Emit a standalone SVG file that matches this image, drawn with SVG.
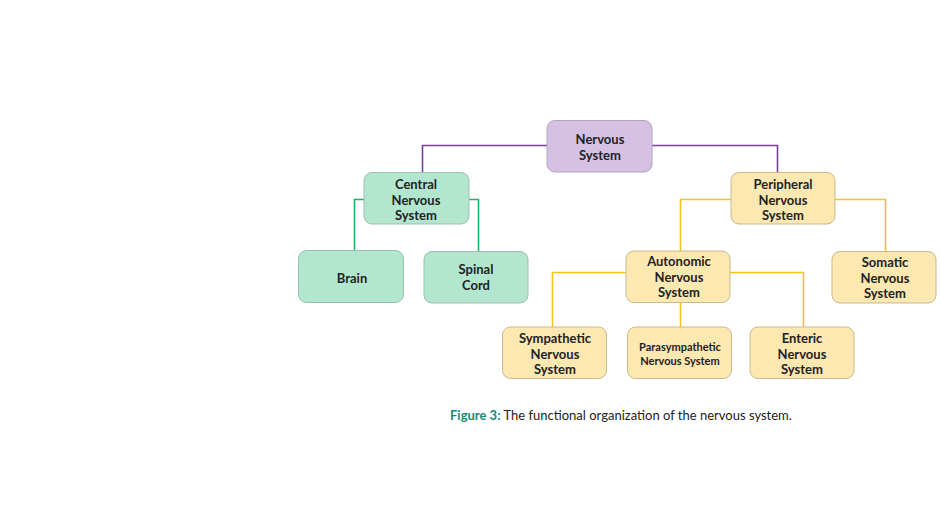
<svg xmlns="http://www.w3.org/2000/svg" width="940" height="526" viewBox="0 0 940 526">
<style>
.n text{font-family:Lato,"Liberation Sans",sans-serif;font-size:13px;font-weight:bold;fill:#222;text-anchor:middle}
.p rect{fill:#d4c1e3;stroke:#b3a3c2;stroke-width:1}
.g rect{fill:#b3e6cf;stroke:#9ebfb0;stroke-width:1}
.y rect{fill:#fde8b2;stroke:#c9b98e;stroke-width:1}
.c path{fill:none;stroke-width:1.6}
.cap{font-family:Lato,"Liberation Sans",sans-serif;font-size:13px;fill:#222}
</style>
<rect width="940" height="526" fill="#fff"/>
<g class="c" id="connectors">
<path d="M547 145.5H422.5V172" stroke="#7b3f98"/>
<path d="M652 145.5H777.5V172" stroke="#7b3f98"/>
<path d="M364 199.5H354.5V250" stroke="#1db36a"/>
<path d="M469 199.5H478.5V251" stroke="#1db36a"/>
<path d="M731 199.5H680.5V251" stroke="#f5c518"/>
<path d="M835 199.5H885.5V251" stroke="#f5c518"/>
<path d="M626 272.5H552.5V327" stroke="#f5c518"/>
<path d="M730 272.5H803.5V327" stroke="#f5c518"/>
<path d="M680.5 303V327" stroke="#f5c518"/>
</g>
<g id="nervous" class="n p"><rect x="547" y="120.5" width="105" height="51.5" rx="8"/><text x="600" y="144">Nervous</text><text x="600" y="159.5">System</text></g>
<g id="cns" class="n g"><rect x="364" y="172.5" width="105" height="51.5" rx="8"/><text x="416" y="189">Central</text><text x="416" y="204.5">Nervous</text><text x="416" y="220">System</text></g>
<g id="brain" class="n g"><rect x="298.5" y="250.5" width="105" height="52" rx="8"/><text x="352" y="282.5">Brain</text></g>
<g id="spinal" class="n g"><rect x="424" y="251.5" width="104" height="51.5" rx="8"/><text x="476" y="274">Spinal</text><text x="476" y="289.5">Cord</text></g>
<g id="pns" class="n y"><rect x="731" y="172.5" width="104" height="51.5" rx="8"/><text x="783" y="189">Peripheral</text><text x="783" y="204.5">Nervous</text><text x="783" y="220">System</text></g>
<g id="autonomic" class="n y"><rect x="626" y="251" width="104" height="51.5" rx="8"/><text x="679" y="266">Autonomic</text><text x="679" y="281.5">Nervous</text><text x="679" y="297">System</text></g>
<g id="somatic" class="n y"><rect x="832" y="251.5" width="104" height="51.5" rx="8"/><text x="885" y="267">Somatic</text><text x="885" y="282.5">Nervous</text><text x="885" y="298">System</text></g>
<g id="sympathetic" class="n y"><rect x="502.5" y="327" width="104" height="51.5" rx="8"/><text x="555" y="343">Sympathetic</text><text x="555" y="358.5">Nervous</text><text x="555" y="374">System</text></g>
<g id="parasympathetic" class="n y"><rect x="627.5" y="327" width="104" height="51.5" rx="8"/><text x="680" y="351" style="font-size:11px">Parasympathetic</text><text x="680" y="364.5" style="font-size:11px">Nervous System</text></g>
<g id="enteric" class="n y"><rect x="750" y="327" width="104" height="51.5" rx="8"/><text x="802" y="343">Enteric</text><text x="802" y="358.5">Nervous</text><text x="802" y="374">System</text></g>
<text class="cap" x="450" y="420"><tspan fill="#1a8a78" font-weight="bold">Figure 3:</tspan> The functional organization of the nervous system.</text>
</svg>
